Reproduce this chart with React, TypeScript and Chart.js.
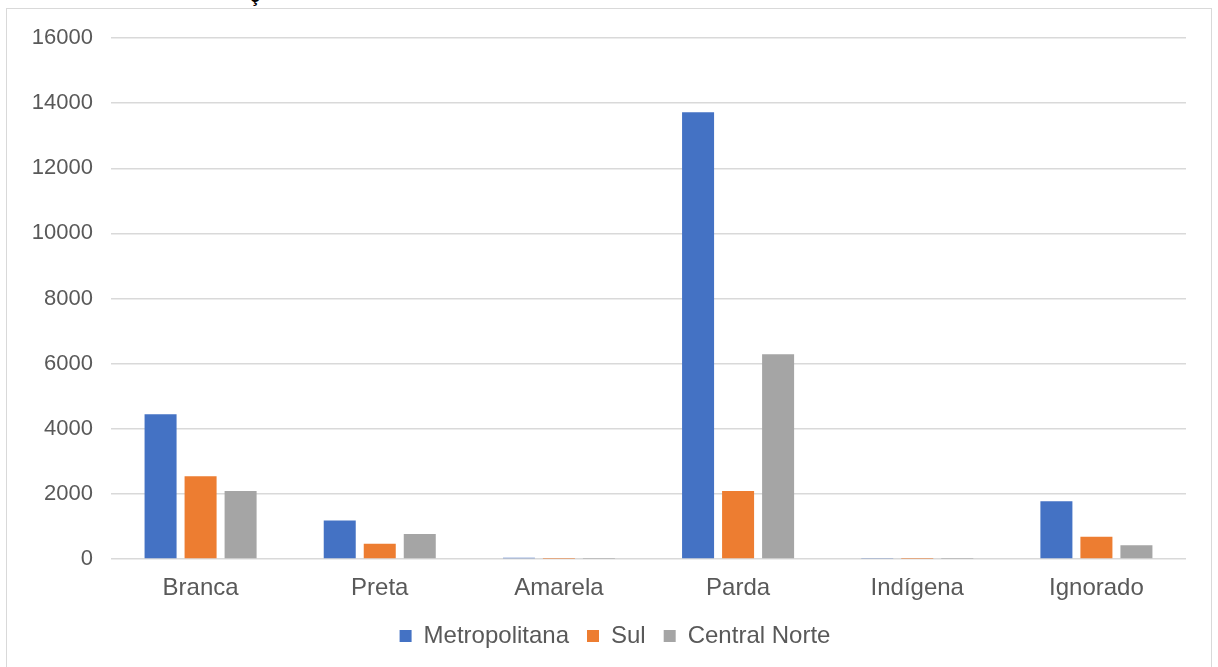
import React, { useEffect, useRef } from "react";
import { Chart, registerables } from "chart.js";

Chart.register(...registerables);

const categories = ["Branca", "Preta", "Amarela", "Parda", "Indígena", "Ignorado"];
const metropolitana = [4445, 1180, 40, 13720, 15, 1770];
const sul = [2540, 470, 10, 2090, 10, 685];
const centralNorte = [2090, 765, 10, 6290, 10, 420];
const yTicks = [0, 2000, 4000, 6000, 8000, 10000, 12000, 14000, 16000];

const shiftLegend = {
  id: "shiftLegend",
  afterLayout(chart: any) {
    const lg = chart.legend;
    if (lg) {
      lg.left += 22;
      lg.right += 22;
    }
  },
};

export default function App() {
  const ref = useRef<HTMLCanvasElement | null>(null);
  useEffect(() => {
    if (!ref.current) return;
    const font = "'Liberation Sans', Arial, sans-serif";
    const chart = new Chart(ref.current, {
      type: "bar",
      data: {
        labels: categories,
        datasets: [
          { label: "Metropolitana", data: metropolitana, backgroundColor: "#4472C4" },
          { label: "Sul", data: sul, backgroundColor: "#ED7D31" },
          { label: "Central Norte", data: centralNorte, backgroundColor: "#A5A5A5" },
        ],
      },
      plugins: [shiftLegend],
      options: {
        animation: false,
        responsive: false,
        maintainAspectRatio: false,
        layout: { padding: { left: 0, right: 32, top: 38, bottom: 9 } },
        datasets: { bar: { categoryPercentage: 0.67, barPercentage: 0.8 } },
        scales: {
          x: {
            grid: { display: false },
            border: { display: false },
            ticks: { color: "#595959", font: { family: font, size: 24 }, padding: 7 },
            afterFit: (s: any) => { s.height = 47; },
          },
          y: {
            min: 0,
            max: 16000,
            afterBuildTicks: (s: any) => { s.ticks = yTicks.map((v) => ({ value: v })); },
            grid: { color: "#d9d9d9", lineWidth: 1.5, drawTicks: false },
            border: { display: false },
            ticks: {
              color: "#595959",
              font: { family: font, size: 22 },
              padding: 18,
              callback: (v: any) => String(v),
            },
            afterFit: (s: any) => { s.width = 111; },
          },
        },
        plugins: {
          legend: {
            position: "bottom",
            labels: {
              color: "#595959",
              font: { family: font, size: 24 },
              boxWidth: 12,
              boxHeight: 12,
              padding: 18,
            },
          },
          tooltip: { enabled: false },
        },
      },
    });
    return () => chart.destroy();
  }, []);
  return (
    <div style={{ position: "fixed", left: 0, top: 0, width: 1218, height: 667, background: "#fff", overflow: "hidden" }}>
      <div style={{ position: "absolute", left: 6, top: 8, width: 1206, height: 700, border: "1.5px solid #d9d9d9", boxSizing: "border-box" }} />
      <div style={{ position: "absolute", left: 250, top: -14, fontFamily: "'Liberation Sans', Arial, sans-serif", fontWeight: "bold", fontSize: 18, color: "#000" }}>ç</div>
      <canvas ref={ref} width={1218} height={667} style={{ position: "absolute", left: 0, top: 0 }} />
    </div>
  );
}
